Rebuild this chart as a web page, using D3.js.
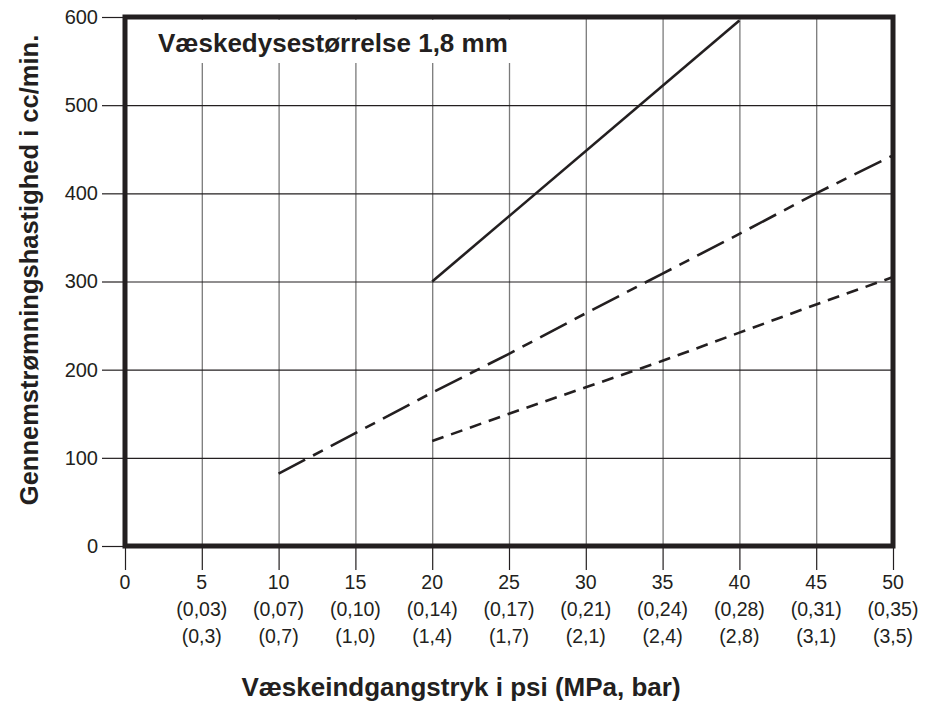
<!DOCTYPE html>
<html>
<head>
<meta charset="utf-8">
<script src="https://cdn.jsdelivr.net/npm/d3@7"></script>
<style>
  html, body { margin: 0; padding: 0; background: #fff; }
  svg { display: block; }
  text { font-family: "Liberation Sans", Arial, Helvetica, sans-serif; fill: #231f20; }
</style>
</head>
<body>
<svg id="chart" width="932" height="706"></svg>
<script>
// ---- Data ----
const xTicks = [0, 5, 10, 15, 20, 25, 30, 35, 40, 45, 50];
const mpaLabels = ["", "(0,03)", "(0,07)", "(0,10)", "(0,14)", "(0,17)", "(0,21)", "(0,24)", "(0,28)", "(0,31)", "(0,35)"];
const barLabels = ["", "(0,3)", "(0,7)", "(1,0)", "(1,4)", "(1,7)", "(2,1)", "(2,4)", "(2,8)", "(3,1)", "(3,5)"];
const yTicks = [0, 100, 200, 300, 400, 500, 600];

const solidPsi = [20, 40];
const solidFlow = [300, 596];
const longDashPsi = [10, 15, 20, 25, 30, 35, 40, 45, 50];
const longDashFlow = [82, 128, 174, 218, 264, 309, 354, 400, 443];
const shortDashPsi = [20, 25, 30, 35, 40, 45, 50];
const shortDashFlow = [119, 150, 180, 210, 242, 274, 305];

const chartTitle = "Væskedysestørrelse 1,8 mm";
const xTitle = "Væskeindgangstryk i psi (MPa, bar)";
const yTitle = "Gennemstrømningshastighed i cc/min.";

// ---- Layout ----
const L = 125, R = 893, T = 17, B = 546;
const ink = "#231f20";
const svg = d3.select("#chart");

const x = d3.scaleLinear().domain([0, 50]).range([L, R]);
const y = d3.scaleLinear().domain([0, 600]).range([B, T]);

// vertical grid
svg.append("g").attr("transform", `translate(0,${B})`)
  .call(d3.axisBottom(x).tickValues(xTicks.filter(v => v > 0 && v < 50)).tickSize(-(B - T)).tickFormat(""))
  .call(g => g.select(".domain").remove())
  .call(g => g.selectAll("line").attr("stroke", "#7a7a7a").attr("stroke-width", 1.3));

// horizontal grid
svg.append("g").attr("transform", `translate(${L},0)`)
  .call(d3.axisLeft(y).tickValues(yTicks.filter(v => v > 0 && v < 600)).tickSize(-(R - L)).tickFormat(""))
  .call(g => g.select(".domain").remove())
  .call(g => g.selectAll("line").attr("stroke", ink).attr("stroke-width", 1.1));

// title white box
svg.append("rect").attr("x", 150).attr("y", 20).attr("width", 372).attr("height", 43).attr("fill", "#fff");

svg.append("text").attr("x", 158).attr("y", 52)
  .attr("font-size", 26).attr("font-weight", "bold").text(chartTitle);

// x axis ticks and labels
const xAxis = svg.append("g").attr("transform", `translate(0,${B})`)
  .call(d3.axisBottom(x).tickValues(xTicks).tickSize(24).tickPadding(0).tickFormat(""));
xAxis.select(".domain").remove();
xAxis.selectAll("line").attr("stroke", ink).attr("stroke-width", 1.2);

const xl = svg.append("g");
xTicks.forEach((v, i) => {
  const t = xl.append("text").attr("x", x(v)).attr("text-anchor", "middle").attr("font-size", 19.5);
  t.append("tspan").attr("x", x(v)).attr("y", 589).text(String(v));
  if (mpaLabels[i]) t.append("tspan").attr("x", x(v)).attr("y", 616).text(mpaLabels[i]);
  if (barLabels[i]) t.append("tspan").attr("x", x(v)).attr("y", 643).text(barLabels[i]);
});

// y axis ticks and labels
const yAxis = svg.append("g").attr("transform", `translate(${L},0)`)
  .call(d3.axisLeft(y).tickValues(yTicks).tickSize(23).tickPadding(4));
yAxis.select(".domain").remove();
yAxis.selectAll("line").attr("stroke", ink).attr("stroke-width", 1.2);
yAxis.selectAll("text").attr("font-size", 20).attr("fill", ink)
  .attr("font-family", "'Liberation Sans', Arial, sans-serif");

// lines
const line = d3.line().x(d => x(d[0])).y(d => y(d[1]));
const zip = (a, b) => a.map((v, i) => [v, b[i]]);

svg.append("path").datum(zip(solidPsi, solidFlow)).attr("d", line)
  .attr("fill", "none").attr("stroke", ink).attr("stroke-width", 2.6);
svg.append("path").datum(zip(longDashPsi, longDashFlow)).attr("d", line)
  .attr("fill", "none").attr("stroke", ink).attr("stroke-width", 2.6)
  .attr("stroke-dasharray", "30,9,11,9");
svg.append("path").datum(zip(shortDashPsi, shortDashFlow)).attr("d", line)
  .attr("fill", "none").attr("stroke", ink).attr("stroke-width", 2.6)
  .attr("stroke-dasharray", "12,8");

// frame
svg.append("rect").attr("x", L).attr("y", T).attr("width", R - L).attr("height", B - T)
  .attr("fill", "none").attr("stroke", ink).attr("stroke-width", 5);

// axis titles
svg.append("text").attr("x", 461).attr("y", 696).attr("text-anchor", "middle")
  .attr("font-size", 26).attr("font-weight", "bold").text(xTitle);
svg.append("text").attr("transform", "translate(38,270) rotate(-90)").attr("text-anchor", "middle")
  .attr("font-size", 25.5).attr("font-weight", "bold").text(yTitle);
</script>
</body>
</html>
